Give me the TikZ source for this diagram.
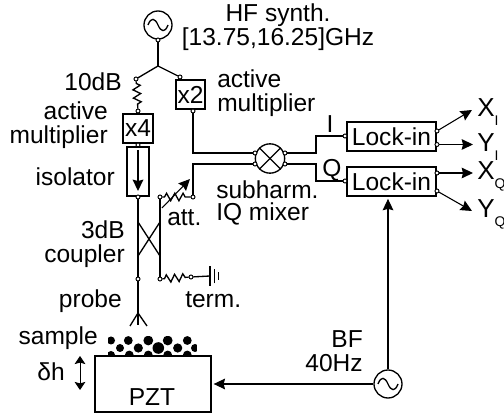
\documentclass[tikz,border=0pt]{standalone}
\usepackage{fontspec}
\setmainfont{Liberation Sans}
\usetikzlibrary{arrows.meta,decorations.pathmorphing}
\tikzset{
  lab/.style={font=\fontsize{18.4}{18}\selectfont, inner sep=0pt, align=center},
  wire/.style={line width=1pt},
  res/.style={line width=1pt, decorate, decoration={zigzag, amplitude=2.8pt, segment length=6.2pt, pre length=1.5pt, post length=1.5pt}},
  arr/.style={-{Stealth[length=8.5pt,width=8pt,inset=1pt]}, line width=0.8pt},
  port/.style={draw, circle, fill=white, line width=0.7pt, minimum size=3pt, inner sep=0pt},
  src/.style={draw, circle, line width=1pt, minimum size=21pt, inner sep=0pt},
  box/.style={draw, rectangle, line width=1.3pt, inner sep=0pt, font=\fontsize{18.4}{18}\selectfont},
  lock/.style={box, line width=1.6pt, minimum width=66.5pt, minimum height=21.5pt},
}
\begin{document}
\begin{tikzpicture}[x=0.75pt,y=-0.75pt]
\useasboundingbox (0,0) rectangle (504,420);
\newcommand{\sinewave}[1]{\draw[wire, shift={(#1.center)}] (-10,0) .. controls (-7,-8) and (-3,-7) .. (0,0) .. controls (3,7) and (7,8) .. (10,0);}
\newcommand{\outlab}[4]{\node[lab, anchor=base west, font=\fontsize{19.5}{19}\selectfont] (#1) at #2 {#3\raisebox{-6.5pt}{\fontsize{10.5}{10}\selectfont #4}};}
% synth and multipliers
\node[src] (hf) at (158,25) {};
\sinewave{hf}
\node[port] (hfout) at (158,40) {};
\coordinate (split) at (158,66);
\node[port] (padin) at (136,79) {};
\node[port] (x2in) at (180,77) {};
\node[port] (padout) at (138,111) {};
\node[box, minimum width=22pt, minimum height=21.5pt] (x2) at (190.5,94.5) {x2};
\node[box, minimum width=22pt, minimum height=21.5pt] (x4) at (138,128.5) {x4};
\node[port] (x2out) at (193,111) {};
\node[port] (x4out) at (138,145) {};
\draw[wire] (hfout) -- (split);
\draw[wire] (padin) -- (split) -- (x2in);
\draw[res] (padin) -- (padout);
% isolator
\node[box, minimum width=16.5pt, minimum height=36.5pt] (iso) at (138,171.5) {};
\coordinate (isotop) at (138,150);
\coordinate (isobot) at (138,191);
\draw[arr, line width=1.2pt] (isotop) -- (isobot);
\node[port] (isoout) at (138,197) {};
% coupler
\coordinate (c1) at (138,222);
\coordinate (c2) at (160,222);
\coordinate (c3) at (138,256);
\coordinate (c4) at (160,256);
\node[port] (cpin) at (160,197) {};
\node[port] (cthru) at (138,279) {};
\node[port] (cterm) at (160,279) {};
\draw[wire] (isoout) -- (c1) -- (c3) -- (cthru);
\draw[wire] (cpin) -- (c2) -- (c4) -- (cterm);
\draw[wire] (c1) -- (c4);
\draw[wire] (c2) -- (c3);
% attenuator
\node[port] (attout) at (193,197) {};
\draw[res] (cpin) -- (attout);
\coordinate (atta) at (162,208);
\coordinate (attb) at (190,179);
\draw[arr] (atta) -- (attb);
% termination
\node[port] (termout) at (191,277) {};
\coordinate (g1) at (210,276);
\coordinate (g2) at (214.5,276);
\coordinate (g3) at (218.5,276);
\draw[res] (cterm) -- (termout);
\draw[wire] (termout) -- (g1);
\draw[wire] ([yshift=-7.5pt]g1) -- ([yshift=7.5pt]g1);
\draw[wire] ([yshift=-5.5pt]g2) -- ([yshift=5.5pt]g2);
\draw[wire] ([yshift=-3pt]g3) -- ([yshift=3pt]g3);
% probe
\coordinate (tip) at (138,313);
\coordinate (tipl) at (130,326);
\coordinate (tipm) at (138,325);
\coordinate (tipr) at (147,326);
\draw[wire] (cthru) -- (tip) -- (tipm);
\draw[wire] (tipl) -- (tip) -- (tipr);
% sample and PZT
\node[minimum width=66.5pt, minimum height=13.5pt, inner sep=0pt, outer sep=0pt] (sample) at (152.5,346) {};
\begin{scope}
\clip (sample.south west) rectangle (sample.north east);
\foreach \dx/\dy/\dr in {111/340.5/4,128.3/340.5/4.4,148.3/340.5/4.9,167.7/340.5/4.9,187.3/340.5/4.4,
  120/348/4,138.3/348/4.6,158.3/348/5.8,177.7/348/4.6,195/348/4,
  111/355/4,129.3/355/4.4,148.3/355/4.4,167.7/355/4.4,187.3/355/4.4}
  \fill (\dx,\dy) circle (\dr);
\end{scope}
\node[box, line width=1pt, minimum width=87pt, minimum height=42pt] (pzt) at (153,384) {};
\node[lab] (pztlab) at (152,397) {PZT};
\coordinate (dhtop) at (80,356);
\coordinate (dhbot) at (80,390);
\draw[{Stealth[length=6pt,width=8pt,inset=1pt]}-{Stealth[length=6pt,width=8pt,inset=1pt]}, line width=0.7pt] (dhtop) -- (dhbot);
% mixer
\node[draw, circle, line width=1pt, minimum size=22pt, inner sep=0pt] (mix) at (270,158.5) {};
\draw[wire] (mix.north west) -- (mix.south east);
\draw[wire] (mix.north east) -- (mix.south west);
\node[port] (mixa) at (255,153) {};
\node[port] (mixb) at (255,164) {};
\node[port] (mixi) at (285,153) {};
\node[port] (mixq) at (285,164) {};
\coordinate (ikink) at (316,153);
\coordinate (qkink) at (316,164);
\draw[wire] (x2out) -- (x2out |- mixa) -- (mixa);
\draw[wire] (attout) -- (attout |- mixb) -- (mixb);
% lock-ins
\node[lock] (locki) at (391.5,136.5) {Lock-in};
\node[lock] (lockq) at (391.5,181.5) {Lock-in};
\node[port] (iin) at (345,136) {};
\node[port] (qin) at (345,181) {};
\draw[wire] (mixi) -- (ikink) -- (ikink |- iin) -- (iin);
\draw[wire] (mixq) -- (qkink) -- (qkink |- qin) -- (qin);
\node[port] (xiport) at (437,131) {};
\node[port] (yiport) at (437,144.5) {};
\node[port] (xqport) at (437,173) {};
\node[port] (yqport) at (437,191) {};
\coordinate (xiend) at (472,110);
\coordinate (yiend) at (473,144.5);
\coordinate (xqend) at (473,173);
\coordinate (yqend) at (472,211);
\draw[arr] (xiport) -- (xiend);
\draw[arr] (yiport) -- (yiend);
\draw[arr] (xqport) -- (xqend);
\draw[arr] (yqport) -- (yqend);
% low frequency source
\node[src] (bf) at (388,384) {};
\sinewave{bf}
\draw[arr, shorten >=1.5pt] (bf.north) -- (bf.north |- lockq.south);
\draw[arr, shorten >=1.5pt] (bf.west) -- (pzt.east);
% labels
\node[lab] (hflab) at (278,27) {HF synth.\\[0pt] {[}13.75,16.25{]}GHz};
\node[lab, anchor=base east] (padlab) at (122,91) {10dB};
\node[lab, anchor=east, align=right] (x4lab) at (108,125) {active\\ multiplier};
\node[lab, anchor=west, align=left] (x2lab) at (217,93) {active\\ multiplier};
\node[lab, anchor=base east] (isolab) at (115,186) {isolator};
\node[lab, anchor=east, align=right] (cplab) at (125,244) {3dB\\ coupler};
\node[lab, anchor=base west] (attlab) at (167,226) {att.};
\node[lab, anchor=base west] (termlab) at (185,308) {term.};
\node[lab, anchor=base east] (probelab) at (122,308) {probe};
\node[lab, anchor=base east] (samplelab) at (98,345) {sample};
\node[lab, anchor=base east] (dhlab) at (65,381) {δh};
\node[lab, anchor=west, align=left] (mixlab) at (216,203) {subharm.\\[-1pt] IQ mixer};
\node[lab, anchor=base] (ilab) at (330,133) {I};
\node[lab, anchor=base] (qlab) at (332,177) {Q};
\node[lab, anchor=east, align=right] (bflab) at (363,351) {BF\\ 40Hz};
\outlab{xilab}{(477,117)}{X}{I}
\outlab{yilab}{(477,152)}{Y}{I}
\outlab{xqlab}{(477,180)}{X}{Q}
\outlab{yqlab}{(477,218)}{Y}{Q}
\end{tikzpicture}
\end{document}
